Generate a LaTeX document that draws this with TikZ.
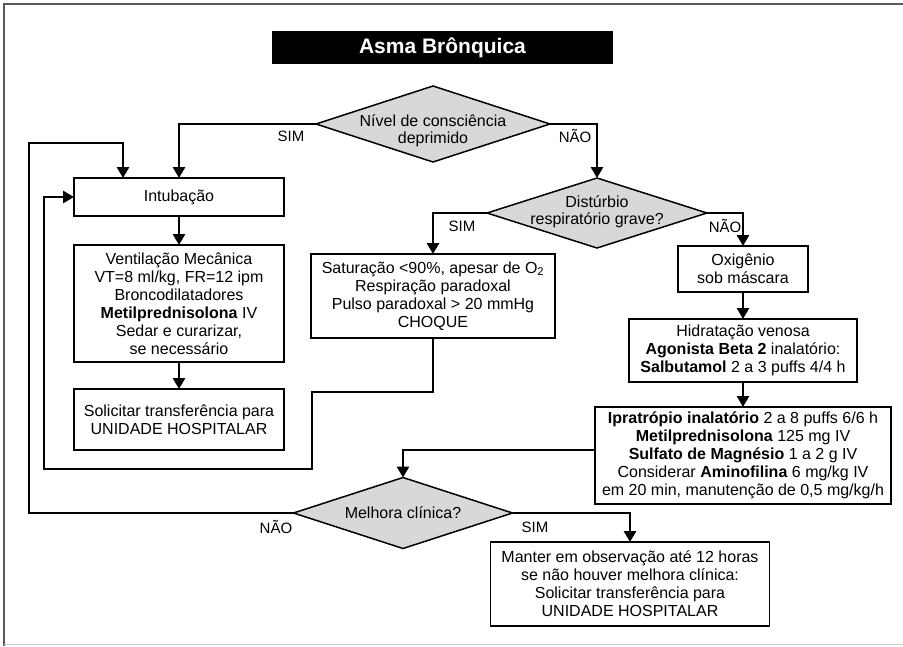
\documentclass[tikz,border=0pt]{standalone}
\usepackage{fontspec}
\setmainfont{Liberation Sans}
\usetikzlibrary{arrows.meta,shapes.geometric}
\definecolor{diafill}{RGB}{216,216,216}
\definecolor{framegray}{RGB}{90,90,90}
\definecolor{botgray}{RGB}{205,205,205}
\begin{document}
\begin{tikzpicture}[x=1pt,y=-1pt,
  box/.style={draw, line width=1.6pt, rectangle, inner sep=0pt, outer sep=0pt, align=center, font=\fontsize{16}{18}\selectfont},
  dia/.style={draw, line width=1.5pt, diamond, fill=diafill, inner sep=0pt, outer sep=0pt},
  dtext/.style={align=center, font=\fontsize{16}{17}\selectfont, inner sep=0pt},
  lab/.style={font=\fontsize{15}{15}\selectfont, inner sep=0pt},
  conn/.style={line width=2.8pt, -{Triangle[width=12pt,length=11pt]}}]
\useasboundingbox (0,0) rectangle (903,646);
% frame
\draw[framegray, line width=1.5pt] (4,646) -- (4,4) -- (903,4);
\draw[botgray, line width=1pt] (4,644) -- (903,644);
% title
\node[fill=black, minimum width=341pt, minimum height=33pt, inner sep=0pt, text=white,
      font=\fontsize{21}{21}\selectfont\bfseries] (title) at (442.5,47.5) {Asma Brônquica};
% diamonds
\node[dia, minimum width=234pt, minimum height=76pt] (d1) at (433,124) {};
\node[dtext] (d1t) at (433,131) {Nível de consciência\\deprimido};
\node[dia, minimum width=220pt, minimum height=70pt] (d2) at (597,213) {};
\node[dtext] (d2t) at (597,212) {Distúrbio\\respiratório grave?};
\node[dia, minimum width=219pt, minimum height=71pt] (d3) at (403,513) {};
\node[dtext] (d3t) at (403,513) {Melhora clínica?};
% boxes
\node[box, minimum width=210pt, minimum height=38pt] (intub) at (179,197) {Intubação};
\node[box, minimum width=210pt, minimum height=117pt] (vent) at (179,303.5)
  {Ventilação Mecânica\\VT=8 ml/kg, FR=12 ipm\\Broncodilatadores\\\textbf{Metilprednisolona} IV\\Sedar e curarizar,\\se necessário};
\node[box, minimum width=210pt, minimum height=61pt] (solic) at (179,419.5)
  {Solicitar transferência para\\UNIDADE HOSPITALAR};
\node[box, minimum width=244pt, minimum height=84pt] (satur) at (433,296)
  {Saturação <90\%, apesar de O\textsubscript{2}\\Respiração paradoxal\\Pulso paradoxal > 20 mmHg\\CHOQUE};
\node[box, minimum width=130pt, minimum height=46pt] (oxig) at (743,269) {Oxigênio\\sob máscara};
\node[box, minimum width=228pt, minimum height=63pt] (hidr) at (743,350.5)
  {Hidratação venosa\\\textbf{Agonista Beta 2} inalatório:\\\textbf{Salbutamol} 2 a 3 puffs 4/4 h};
\node[box, minimum width=296pt, minimum height=97pt] (ipra) at (743,455.5)
  {\textbf{Ipratrópio inalatório} 2 a 8 puffs 6/6 h\\\textbf{Metilprednisolona} 125 mg IV\\\textbf{Sulfato de Magnésio} 1 a 2 g IV\\Considerar \textbf{Aminofilina} 6 mg/kg IV\\em 20 min, manutenção de 0,5 mg/kg/h};
\node[box, minimum width=279pt, minimum height=84pt] (final) at (630,584)
  {Manter em observação até 12 horas\\se não houver melhora clínica:\\Solicitar transferência para\\UNIDADE HOSPITALAR};
\coordinate (intubin) at (123,178);
% connectors
\draw[conn] (d1.west) -| (intub.north);
\draw[conn] (d1.east) -| (d2.north);
\draw[conn] (d2.west) -| (satur.north);
\draw[conn] (d2.east) -| (oxig.north);
\draw[conn] (intub.south) -- (vent.north);
\draw[conn] (vent.south) -- (solic.north);
\draw[conn] (oxig.south) -- (hidr.north);
\draw[conn] (hidr.south) -- (ipra.north);
\draw[conn] (satur.south) -- (433,392) -- (312,392) -- (312,469) -- (44,469) |- (intub.west);
\draw[conn] ([yshift=5.5pt]ipra.west) -| (d3.north);
\draw[conn] (d3.west) -- (29,513) -- (29,143) -| (intubin);
\draw[conn] (d3.east) -| (final.north);
% labels
\node[lab] (l1) at (291,136) {SIM};
\node[lab] (l2) at (575,136) {NÃO};
\node[lab] (l3) at (462,226) {SIM};
\node[lab] (l4) at (725,226) {NÃO};
\node[lab] (l5) at (276,527) {NÃO};
\node[lab] (l6) at (535,527) {SIM};
\end{tikzpicture}
\end{document}
